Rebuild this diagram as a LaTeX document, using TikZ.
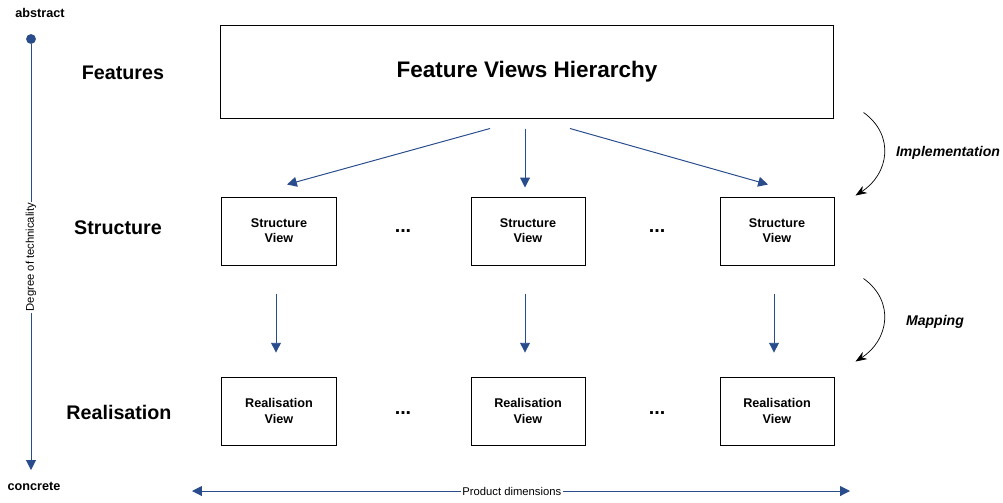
\documentclass[tikz,border=0pt]{standalone}
\usepackage{fontspec}
\setmainfont{Liberation Sans}
\usetikzlibrary{arrows.meta,positioning}
\definecolor{axisblue}{RGB}{41,76,140}
\tikzset{
  viewbox/.style={draw, line width=0.7pt, minimum width=2.85cm, minimum height=1.7cm,
    align=center, font=\fontsize{9}{10.8}\selectfont\bfseries},
  rowlabel/.style={font=\fontsize{14}{17}\selectfont\bfseries},
  dots/.style={font=\fontsize{14}{16}\selectfont\bfseries},
  flow/.style={axisblue, line width=0.7pt, -{Triangle[length=7pt,width=7pt]}},
  turn/.style={line width=0.5pt, -{Stealth[length=8pt,width=6pt]}},
  steplabel/.style={font=\fontsize{10}{12}\selectfont\bfseries\itshape},
  endlabel/.style={font=\fontsize{9}{11}\selectfont\bfseries},
  axislabel/.style={font=\fontsize{8}{10}\selectfont, text=black, fill=white, inner sep=1pt}
}
\begin{document}
\begin{tikzpicture}[x=0.025cm, y=-0.025cm]
\useasboundingbox (0,0) rectangle (1003,502);
\def\colx{{279,528,777}}

% degree of technicality axis
\node[endlabel] (abstract) at (40,13) {abstract};
\node[endlabel] (concrete) at (34,486) {concrete};
\node[circle, fill=axisblue, inner sep=0pt, minimum size=7pt] (top) at (31,39) {};
\coordinate (bottom) at (31,470);
\draw[flow] (top) -- node[axislabel, rotate=90] {Degree of technicality} (bottom);

% row labels
\node[rowlabel] (features) at (123,73) {Features};
\node[rowlabel] (structure) at (118,228) {Structure};
\node[rowlabel] (realisation) at (119,412) {Realisation};

% feature views
\node[draw, line width=0.7pt, minimum width=15.3cm, minimum height=2.325cm,
  font=\fontsize{16}{19}\selectfont\bfseries] (fvh) at (527,71.5) {Feature Views Hierarchy};

% structure and realisation views
\foreach \i in {1,2,3}{
  \pgfmathsetmacro{\x}{\colx[\i-1]}
  \node[viewbox] (s\i) at (\x,231) {Structure\\View};
  \node[viewbox] (r\i) at (\x,411) {Realisation\\View};
  \draw[flow, shorten <=20pt, shorten >=17pt] ([xshift=-3*0.025cm]s\i.south) -- ([xshift=-3*0.025cm]r\i.north);
}
\node[dots] (sd1) at (403,231) {...};
\node[dots] (sd2) at (657,231) {...};
\node[dots] (rd1) at (403,413) {...};
\node[dots] (rd2) at (657,413) {...};

% implementation arrows
\draw[flow] ([shift={(-37,10)}]fvh.south) -- ([shift={(8,-12)}]s1.north);
\draw[flow] ([shift={(-2,10)}]fvh.south) -- ([shift={(-3,-9)}]s2.north);
\draw[flow] ([shift={(43,10)}]fvh.south) -- ([shift={(-9,-12)}]s3.north);

% steps
\coordinate (impl1) at ([shift={(30,-6)}]fvh.south east);
\coordinate (impl2) at ([shift={(21,-1)}]s3.north east);
\draw[turn] (impl1) .. controls +(32,23) and +(33,-21) .. (impl2);
\node[steplabel] (impl) at (948,153) {Implementation};
\coordinate (map1) at ([shift={(29,13)}]s3.south east);
\coordinate (map2) at ([shift={(21,-15)}]r3.north east);
\draw[turn] (map1) .. controls +(32,23) and +(33,-21) .. (map2);
\node[steplabel] (map) at (935,322) {Mapping};

% product dimensions
\coordinate (pleft) at (192,491);
\coordinate (pright) at (850,491);
\draw[flow, {Triangle[length=7pt,width=7pt]}-{Triangle[length=7pt,width=7pt]}] (pleft) -- node[axislabel, pos=0.486] {Product dimensions} (pright);
\end{tikzpicture}
\end{document}
